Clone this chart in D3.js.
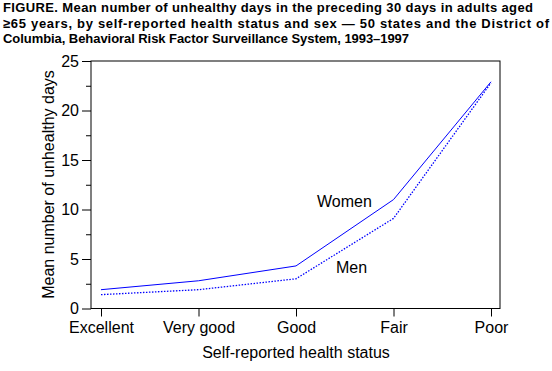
<!DOCTYPE html>
<html>
<head>
<meta charset="utf-8">
<script src="https://cdn.jsdelivr.net/npm/d3@7"></script>
<style>
  body { margin: 0; background: #fff; }
  svg text { font-family: "Liberation Sans", Arial, Helvetica, sans-serif; }
</style>
</head>
<body>
<div id="chart"></div>
<script>
// health status categories and mean unhealthy days
const categories = ["Excellent", "Very good", "Good", "Fair", "Poor"];
const women = [1.9, 2.8, 4.3, 11.0, 22.9];
const men = [1.4, 1.9, 3.0, 9.1, 22.8];
const yTicks = [0, 5, 10, 15, 20, 25];
const yMinorTicks = [2.5, 7.5, 12.5, 17.5, 22.5];
const titleLines = [
  "FIGURE. Mean number of unhealthy days in the preceding 30 days in adults aged",
  "\u226565 years, by self-reported health status and sex \u2014 50 states and the District of",
  "Columbia, Behavioral Risk Factor Surveillance System, 1993\u20131997"
];
const titleWidths = [530, 546, 406];

const width = 552, height = 371;
const plot = { left: 91, right: 500, top: 61, bottom: 308.5 };
const fs = "16px";

const svg = d3.select("#chart").append("svg")
    .attr("width", width)
    .attr("height", height);

// title
svg.append("g").selectAll("text")
    .data(titleLines)
    .enter().append("text")
    .attr("x", 3)
    .attr("y", (d, i) => 12 + i * 15.7)
    .attr("font-size", "13px")
    .attr("font-weight", "bold")
    .attr("textLength", (d, i) => titleWidths[i])
    .attr("lengthAdjust", "spacing")
    .text(d => d);

const x = d3.scalePoint()
    .domain(categories)
    .range([101, 491]);

const y = d3.scaleLinear()
    .domain([0, 25])
    .range([plot.bottom, plot.top]);

// frame
svg.append("rect")
    .attr("x", plot.left)
    .attr("y", plot.top)
    .attr("width", plot.right - plot.left)
    .attr("height", plot.bottom - plot.top)
    .attr("fill", "none")
    .attr("stroke", "#000")
    .attr("stroke-width", 1);

// y axis
const yAxis = svg.append("g")
    .attr("transform", "translate(" + plot.left + ",0)")
    .call(d3.axisLeft(y).tickValues(yTicks).tickSize(9).tickPadding(3).tickFormat(d3.format("d")));
yAxis.select(".domain").remove();
yAxis.selectAll("text").attr("font-size", fs).attr("fill", "#000")
    .attr("font-family", "Liberation Sans, Arial, sans-serif");

const yMinor = svg.append("g")
    .attr("transform", "translate(" + plot.left + ",0)")
    .call(d3.axisLeft(y).tickValues(yMinorTicks).tickSize(5).tickFormat(""));
yMinor.select(".domain").remove();

// x axis
const xAxis = svg.append("g")
    .attr("transform", "translate(0," + plot.bottom + ")")
    .call(d3.axisBottom(x).tickSize(8).tickPadding(5));
xAxis.select(".domain").remove();
xAxis.selectAll("text").attr("font-size", fs).attr("fill", "#000")
    .attr("font-family", "Liberation Sans, Arial, sans-serif");

// axis titles
svg.append("text")
    .attr("x", 296)
    .attr("y", 358)
    .attr("text-anchor", "middle")
    .attr("font-size", fs)
    .text("Self-reported health status");

svg.append("text")
    .attr("transform", "translate(54,184.5) rotate(-90)")
    .attr("text-anchor", "middle")
    .attr("font-size", fs)
    .text("Mean number of unhealthy days");

// lines
const line = d3.line()
    .x((d, i) => x(categories[i]))
    .y(d => y(d));

svg.append("path")
    .datum(women)
    .attr("d", line)
    .attr("fill", "none")
    .attr("stroke", "#0000ff")
    .attr("stroke-width", 1);

svg.append("path")
    .datum(men)
    .attr("d", line)
    .attr("fill", "none")
    .attr("stroke", "#0000ff")
    .attr("stroke-width", 1.3)
    .attr("stroke-dasharray", "1.5,1.5");

// series labels
svg.append("text")
    .attr("x", 317)
    .attr("y", 207)
    .attr("font-size", fs)
    .text("Women");

svg.append("text")
    .attr("x", 336)
    .attr("y", 273)
    .attr("font-size", fs)
    .text("Men");
</script>
</body>
</html>
